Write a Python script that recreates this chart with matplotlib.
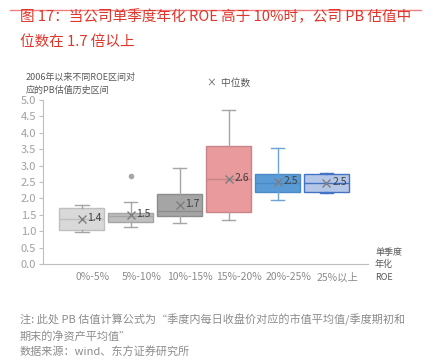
import matplotlib.pyplot as plt
from matplotlib.lines import Line2D

plt.rcParams["font.family"] = ["Noto Sans CJK SC", "DejaVu Sans"]

# data
categories = ["0%-5%", "5%-10%", "10%-15%", "15%-20%", "20%-25%", "25%以上"]
whisker_low = [0.97, 1.14, 1.26, 1.34, 1.95, 2.18]
q1 = [1.04, 1.28, 1.47, 1.58, 2.19, 2.19]
median = [1.37, 1.47, 1.63, 2.58, 2.46, 2.46]
q3 = [1.71, 1.55, 2.13, 3.61, 2.74, 2.74]
whisker_high = [1.81, 1.88, 2.94, 4.70, 3.54, 2.78]
outliers = [[], [2.69], [], [], [], []]
marker_values = [1.38, 1.50, 1.80, 2.58, 2.49, 2.47]
marker_labels = ["1.4", "1.5", "1.7", "2.6", "2.5", "2.5"]

face_colors = ["#d9d9d9", "#bfbfbf", "#a5a5a5", "#e89a9c", "#5b9bd5", "#b4c7e7"]
edge_colors = ["#bfbfbf", "#a5a5a5", "#8c8c8c", "#c98486", "#4a8ac8", "#4472c4"]
line_colors = ["#a5a5a5", "#a5a5a5", "#a5a5a5", "#a5a5a5", "#6fa3d8", "#4472c4"]

red = "#e0352b"
grey = "#8c8c8c"

fig = plt.figure(figsize=(4.3, 3.59), dpi=100)
ax = fig.add_axes([0.1, 0.2646, 0.756, 0.4568])

for i in range(len(categories)):
    stats = [{
        "whislo": whisker_low[i], "q1": q1[i], "med": median[i],
        "q3": q3[i], "whishi": whisker_high[i], "fliers": outliers[i],
    }]
    ax.bxp(
        stats, positions=[i], widths=0.92, patch_artist=True, showfliers=True,
        boxprops=dict(facecolor=face_colors[i], edgecolor=edge_colors[i], linewidth=1),
        medianprops=dict(color=edge_colors[i], linewidth=1),
        whiskerprops=dict(color=line_colors[i], linewidth=1),
        capprops=dict(color=line_colors[i], linewidth=1),
        flierprops=dict(marker="o", markersize=3, markerfacecolor="#a5a5a5",
                        markeredgecolor="#a5a5a5"),
        capwidths=0.28,
    )
    ax.plot(i, marker_values[i], marker="x", color="#7f7f7f", markersize=6,
            markeredgewidth=1, zorder=5)
    ax.text(i + 0.12, marker_values[i] + 0.03, marker_labels[i], fontsize=7.5,
            color="#404040", va="center", ha="left", zorder=6)

ax.set_xlim(-0.79, 5.85)
ax.set_ylim(0, 5)
ax.set_yticks([0, 0.5, 1, 1.5, 2, 2.5, 3, 3.5, 4, 4.5, 5])
ax.set_yticklabels([f"{v:.1f}" for v in ax.get_yticks()])
ax.set_xticks([i + 0.22 for i in range(len(categories))])
ax.set_xticklabels(categories)
ax.tick_params(axis="x", length=0, pad=6, labelsize=7.5, labelcolor=grey)
ax.tick_params(axis="y", length=3, color="#bfbfbf", labelsize=8, labelcolor="#a0a0a0", pad=2)
for side in ["top", "right"]:
    ax.spines[side].set_visible(False)
for side in ["left", "bottom"]:
    ax.spines[side].set_color("#bfbfbf")

# title and rule
fig.add_artist(Line2D([10 / 430, 421 / 430], [1 - 10 / 359, 1 - 10 / 359],
                      color="#f08080", linewidth=1))
fig.text(20 / 430, 1 - 17 / 359, "图 17：当公司单季度年化 ROE 高于 10%时，公司 PB 估值中",
         fontsize=10.5, color=red, va="center", ha="left", fontweight="medium")
fig.text(20 / 430, 1 - 42 / 359, "位数在 1.7 倍以上",
         fontsize=10.5, color=red, va="center", ha="left", fontweight="medium")

# in-chart annotations
fig.text(26 / 430, 1 - 77 / 359, "2006年以来不同ROE区间对", fontsize=6.5,
         color="#595959", va="center", ha="left")
fig.text(26 / 430, 1 - 90 / 359, "应的PB估值历史区间", fontsize=6.5,
         color="#595959", va="center", ha="left")
fig.text(207 / 430, 1 - 83 / 359, "×  中位数", fontsize=7, color="#595959",
         va="center", ha="left")
fig.text(375 / 430, 1 - 252 / 359, "单季度", fontsize=6.5, color="#595959", va="center")
fig.text(375 / 430, 1 - 264 / 359, "年化", fontsize=6.5, color="#595959", va="center")
fig.text(375 / 430, 1 - 277 / 359, "ROE", fontsize=6.5, color="#595959", va="center")

# notes
fig.text(20 / 430, 1 - 320 / 359,
         "注: 此处 PB 估值计算公式为“季度内每日收盘价对应的市值平均值/季度期初和",
         fontsize=8, color="#8c8c8c", va="center", ha="left")
fig.text(20 / 430, 1 - 336 / 359, "期末的净资产平均值”",
         fontsize=8, color="#8c8c8c", va="center", ha="left")
fig.text(20 / 430, 1 - 352 / 359, "数据来源：wind、东方证券研究所",
         fontsize=8, color="#8c8c8c", va="center", ha="left")

fig.savefig("out.png", dpi=100)
